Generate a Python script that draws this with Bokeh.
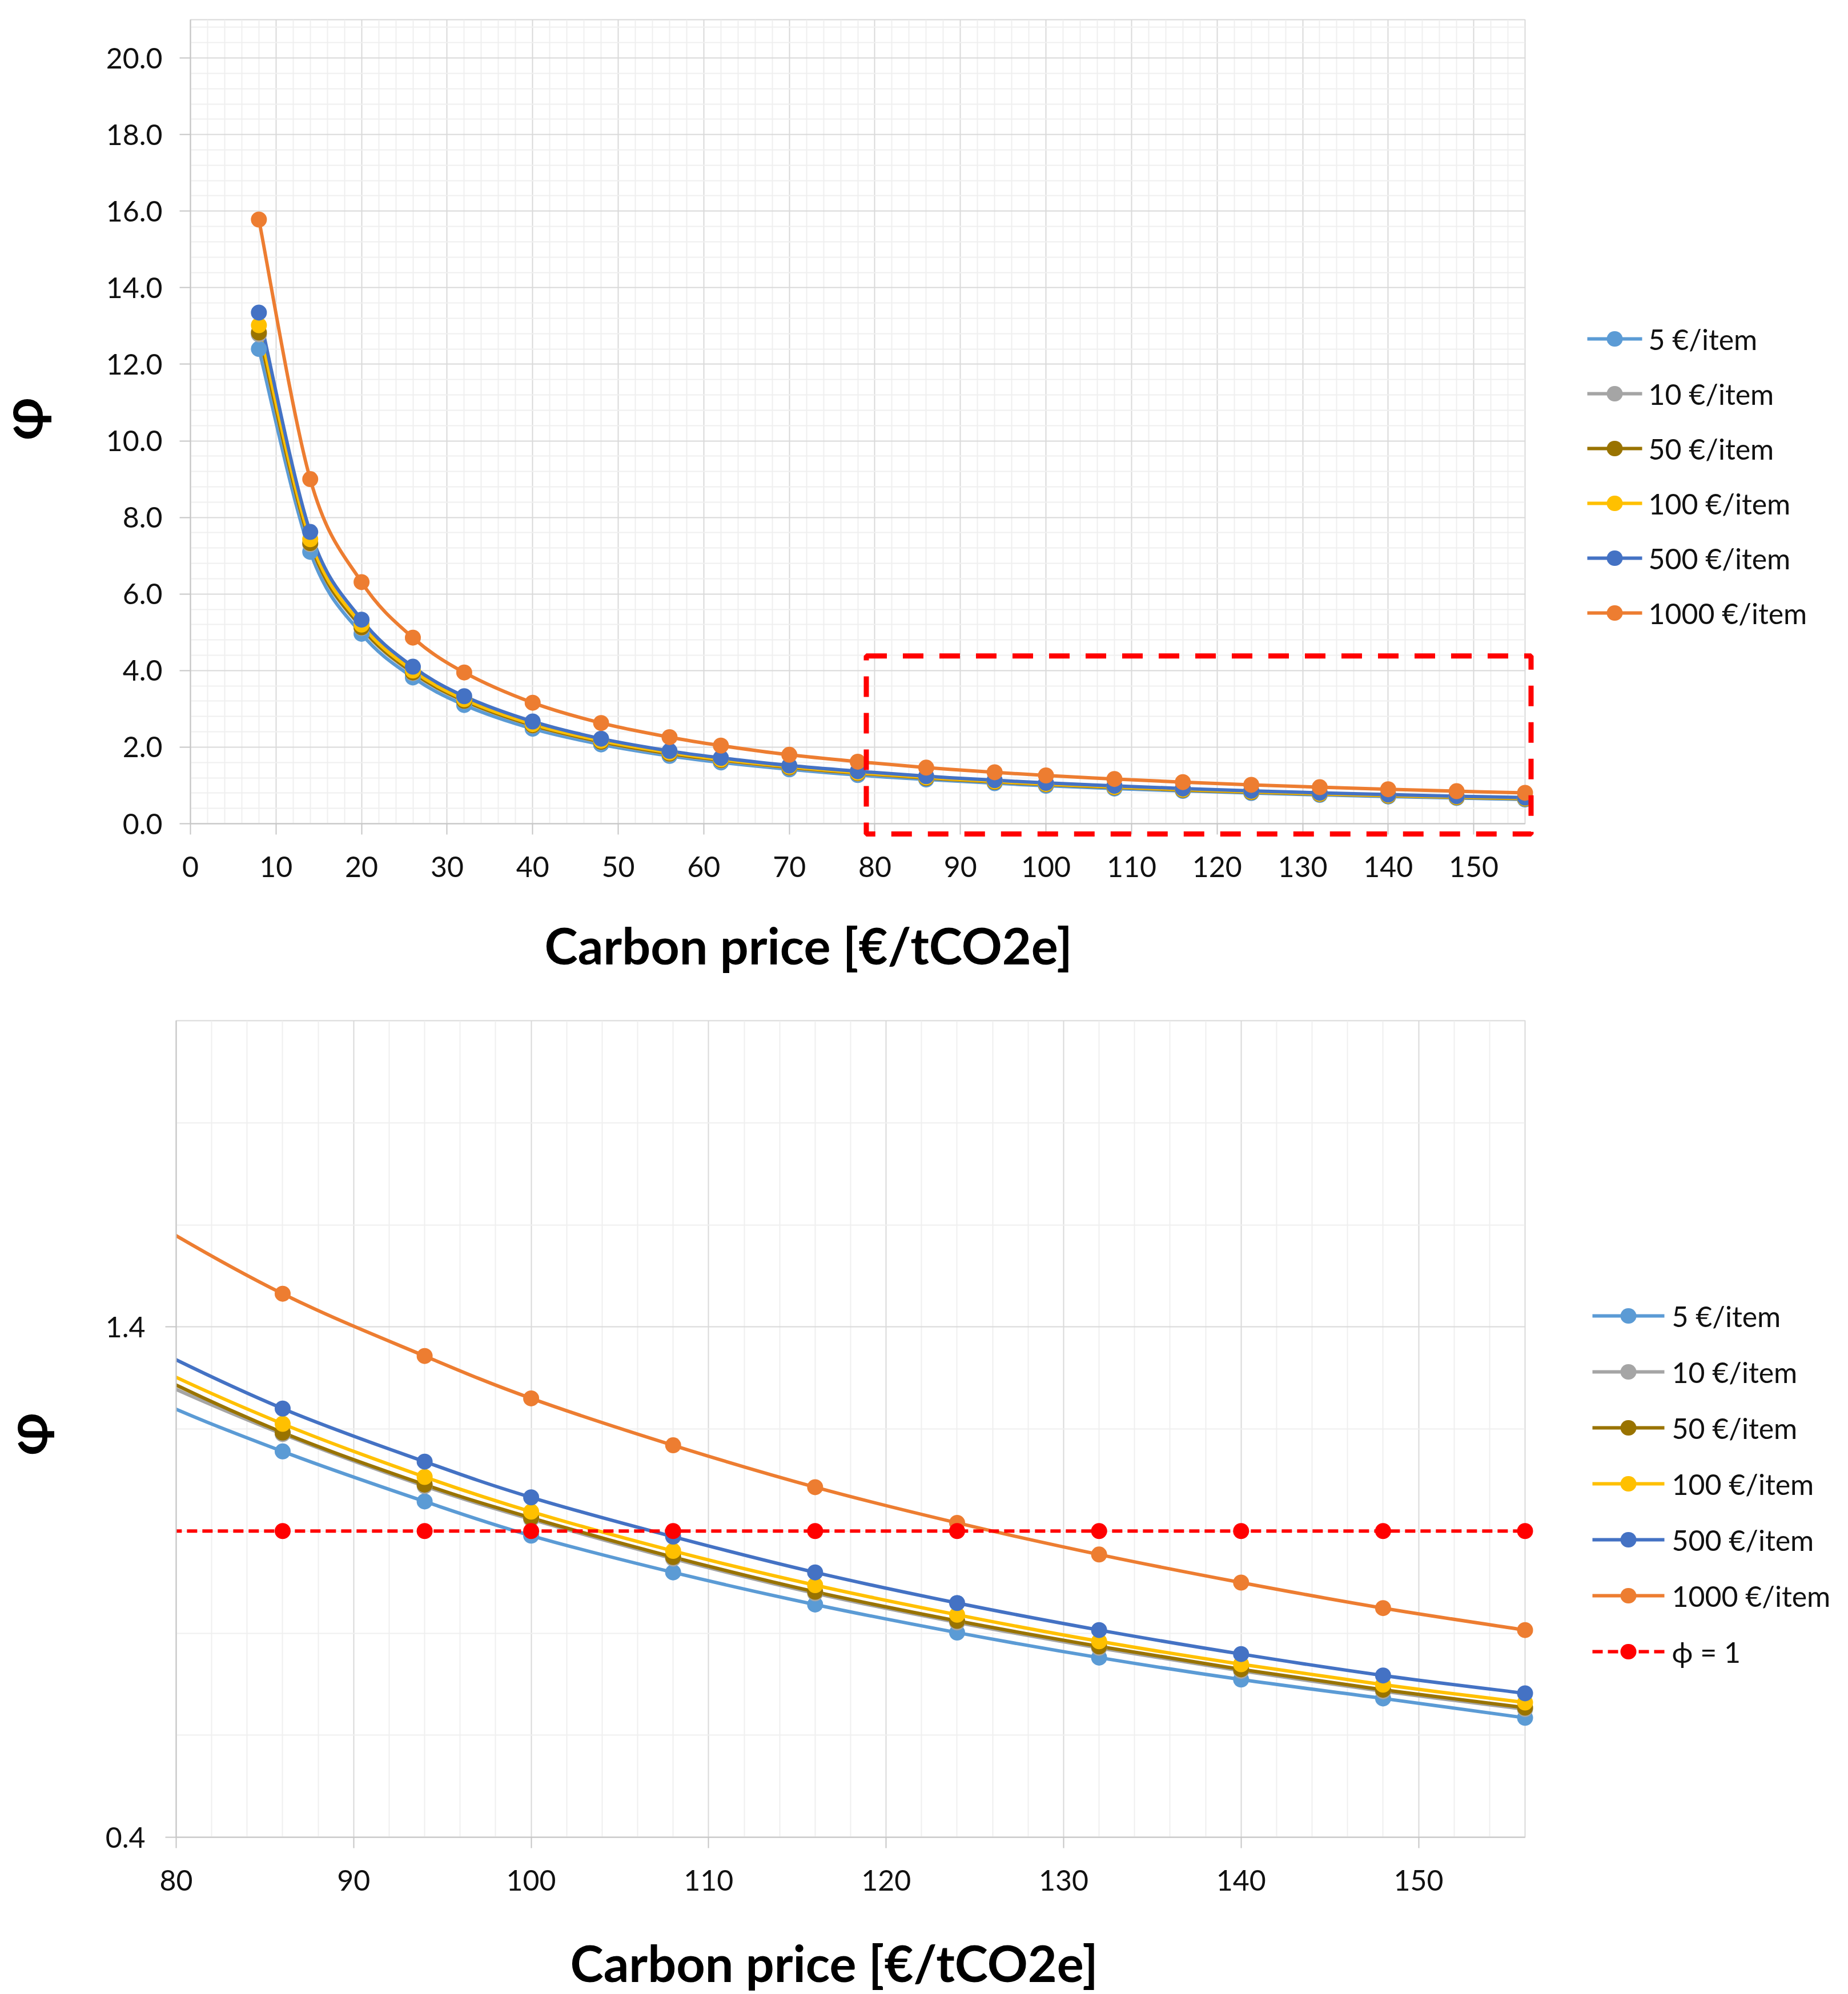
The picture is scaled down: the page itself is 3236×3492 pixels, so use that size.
import math
from bokeh.plotting import figure
from bokeh.models import Range1d, FixedTicker, NumeralTickFormatter, ColumnDataSource
from bokeh.core.properties import value
from bokeh.layouts import column, row
from bokeh.embed import file_html
from bokeh.resources import INLINE

# ---------------- data ----------------
carbon_price = [8, 14, 20, 26, 32, 40, 48, 56, 62, 70, 78, 86, 94, 100, 108, 116, 124, 132, 140, 148, 156]

phi_5 = [12.40, 7.10, 4.96, 3.82, 3.10, 2.48, 2.07, 1.77, 1.60, 1.42, 1.27,
         1.156, 1.058, 0.991, 0.919, 0.856, 0.801, 0.752, 0.709, 0.672, 0.634]
phi_10 = [12.78, 7.30, 5.11, 3.93, 3.20, 2.56, 2.13, 1.82, 1.65, 1.46, 1.31,
          1.190, 1.088, 1.023, 0.946, 0.878, 0.821, 0.771, 0.726, 0.686, 0.651]
phi_50 = [12.83, 7.33, 5.13, 3.95, 3.21, 2.57, 2.14, 1.83, 1.66, 1.47, 1.32,
          1.193, 1.091, 1.026, 0.949, 0.881, 0.824, 0.774, 0.729, 0.689, 0.654]
phi_100 = [13.02, 7.43, 5.20, 4.00, 3.25, 2.60, 2.17, 1.86, 1.68, 1.49, 1.335,
           1.210, 1.106, 1.038, 0.961, 0.894, 0.836, 0.784, 0.739, 0.699, 0.664]
phi_500 = [13.35, 7.62, 5.33, 4.10, 3.33, 2.67, 2.22, 1.90, 1.72, 1.52, 1.37,
           1.240, 1.136, 1.066, 0.989, 0.919, 0.859, 0.806, 0.759, 0.717, 0.682]
phi_1000 = [15.78, 9.00, 6.31, 4.86, 3.95, 3.16, 2.63, 2.26, 2.04, 1.80, 1.62,
            1.465, 1.343, 1.260, 1.168, 1.086, 1.016, 0.954, 0.899, 0.849, 0.806]

ref_price = [78, 86, 94, 100, 108, 116, 124, 132, 140, 148, 156]
ref_phi = [1.0, 1.0, 1.0, 1.0, 1.0, 1.0, 1.0, 1.0, 1.0, 1.0, 1.0]

series_labels = ["5 €/item", "10 €/item", "50 €/item", "100 €/item", "500 €/item", "1000 €/item"]
series_values = [phi_5, phi_10, phi_50, phi_100, phi_500, phi_1000]
series_colors = ["#5B9BD5", "#A5A5A5", "#997300", "#FFC000", "#4472C4", "#ED7D31"]
ref_label = "ϕ = 1"
ref_color = "#FF0000"

x_title = "Carbon price [€/tCO2e]"
y_title = "φ"

top_x_ticks = list(range(0, 151, 10))
top_x_minor = [v for v in range(0, 157, 2) if v % 10 != 0]
top_y_ticks = [round(2.0 * i, 1) for i in range(11)]
top_y_minor = [round(0.4 * i, 1) for i in range(1, 53) if (i % 5) != 0]
bot_x_ticks = list(range(80, 151, 10))
bot_x_minor = [v for v in range(80, 157, 2) if v % 10 != 0]
bot_y_ticks = [0.4, 1.4]
bot_y_minor = [0.6, 0.8, 1.0, 1.2, 1.6, 1.8, 2.0]

# highlighted region drawn on the top chart (data coordinates)
zoom_box = dict(left=79.0, right=156.7, bottom=-0.27, top=4.38)

FONT = "Lato"
GRID_MAJOR = "#d9d9d9"
GRID_MINOR = "#efefef"
AXIS_COL = "#c6c6c6"
TEXT_COL = "#111111"
LW = 6
MS = 28
# note: font sizes such as "100px" are avoided (parsed like a font weight)
TICK_FS = "50px"
LEG_FS = "50px"
TITLE_FS = "88px"
PHI_FS = "98px"

# ---------------- page geometry (px) ----------------
H1, H2 = 1740, 1748
PW1, PW2 = 120, 95                 # strips carrying the rotated y titles
F1 = dict(left=333, right=2670, top=34, bottom=1442)     # top plot area
F2 = dict(left=308, right=2670, top=1787, bottom=3217)   # bottom plot area
BORDER_RIGHT = 3220 - F1["right"]


def to_top(px, py):
    """page px -> top chart data coordinates (for the annotations outside the plot area)."""
    return ((px - F1["left"]) * 156.0 / (F1["right"] - F1["left"]),
            (F1["bottom"] - py) * 21.0 / (F1["bottom"] - F1["top"]))


def to_bot(px, py):
    return (80.0 + (px - F2["left"]) * 76.0 / (F2["right"] - F2["left"]),
            0.4 + (F2["bottom"] - py) * 1.6 / (F2["bottom"] - F2["top"]))


def bezier_source(xs, ys, xmin=None):
    """Smooth (Excel-like) curve through the data points, as cubic Bezier segments."""
    n = len(xs)
    d = dict(x0=[], y0=[], x1=[], y1=[], cx0=[], cy0=[], cx1=[], cy1=[])
    for i in range(n - 1):
        if xmin is not None and xs[i] < xmin:
            continue
        xp, yp = (xs[i - 1], ys[i - 1]) if i > 0 else (xs[i], ys[i])
        xn, yn = (xs[i + 2], ys[i + 2]) if i + 2 < n else (xs[i + 1], ys[i + 1])
        d["x0"].append(xs[i]); d["y0"].append(ys[i])
        d["x1"].append(xs[i + 1]); d["y1"].append(ys[i + 1])
        d["cx0"].append(xs[i] + (xs[i + 1] - xp) / 6.0)
        d["cy0"].append(ys[i] + (ys[i + 1] - yp) / 6.0)
        d["cx1"].append(xs[i + 1] - (xn - xs[i]) / 6.0)
        d["cy1"].append(ys[i + 1] - (yn - ys[i]) / 6.0)
    return ColumnDataSource(d)


def style(p, xt, xm, yt, ym, ystand):
    p.outline_line_color = GRID_MAJOR
    p.outline_line_width = 2
    p.background_fill_color = "white"
    p.border_fill_color = "white"
    p.xaxis.ticker = FixedTicker(ticks=xt, minor_ticks=xm)
    p.yaxis.ticker = FixedTicker(ticks=yt, minor_ticks=ym)
    p.yaxis.formatter = NumeralTickFormatter(format="0.0")
    for ax in (p.xaxis[0], p.yaxis[0]):
        ax.axis_line_color = AXIS_COL
        ax.axis_line_width = 2
        ax.major_tick_line_color = AXIS_COL
        ax.major_tick_line_width = 2
        ax.major_tick_out = 19
        ax.major_tick_in = 0
        ax.minor_tick_line_color = None
        ax.major_label_text_font = FONT
        ax.major_label_text_font_size = TICK_FS
        ax.major_label_text_color = TEXT_COL
    p.xaxis.major_label_standoff = 38
    p.yaxis.major_label_standoff = ystand
    for g in (p.xgrid[0], p.ygrid[0]):
        g.grid_line_color = GRID_MAJOR
        g.grid_line_width = 2
        g.minor_grid_line_color = GRID_MINOR
        g.minor_grid_line_width = 2


def draw_legend(p, conv, entries, x_line0, x_line1, x_text, y_first, pitch):
    """Legend drawn right of the plot area (overlay level, not clipped to the frame)."""
    for i, (lab, col, dash) in enumerate(entries):
        yc = y_first + pitch * i
        xa, ya = conv(x_line0, yc)
        xb, _ = conv(x_line1, yc)
        xm0, _ = conv((x_line0 + x_line1) / 2.0 - 0.5, yc)
        xm1, _ = conv((x_line0 + x_line1) / 2.0 + 0.5, yc)
        xt, _ = conv(x_text, yc)
        p.segment(x0=[xa], y0=[ya], x1=[xb], y1=[ya], line_color=col, line_width=LW,
                  line_dash=dash, level="overlay")
        # marker dot: a very short round-capped stroke (markers outside the ranges get culled)
        p.segment(x0=[xm0], y0=[ya], x1=[xm1], y1=[ya], line_color=col, line_width=MS - 1,
                  line_cap="round", level="overlay")
        p.text([xt], [ya], text=[lab], text_font=value(FONT), text_font_size=value(LEG_FS),
               text_align="left", text_baseline="middle", text_color=TEXT_COL, level="overlay")


def draw_x_title(p, conv, px, py):
    x, y = conv(px, py)
    p.text([x], [y], text=[x_title], text_font=value(FONT), text_font_size=value(TITLE_FS),
           text_font_style="bold", text_align="left", text_baseline="alphabetic",
           text_color="#000000", level="overlay")


def phi_strip(w, h, frame, cx, cy):
    """Narrow strip left of a chart that carries the rotated y-axis title."""
    q = figure(width=w, height=h, output_backend="svg", toolbar_location=None,
               x_axis_location=None, y_axis_location=None,
               x_range=Range1d(0, w), y_range=Range1d(0, frame["bottom"] - frame["top"]),
               min_border=0, min_border_left=0, min_border_right=0,
               min_border_top=0, min_border_bottom=0)
    q.outline_line_color = None
    q.xgrid.visible = False
    q.ygrid.visible = False
    q.text([cx], [frame["bottom"] - cy], text=[y_title], angle=math.pi / 2,
           text_font=value(FONT), text_font_size=value(PHI_FS), text_font_style="bold",
           text_align="center", text_baseline="middle", text_color="#000000", level="overlay")
    return q


# ---------------- top chart ----------------
p1 = figure(width=3220 - PW1, height=H1, output_backend="svg", toolbar_location=None,
            x_range=Range1d(0, 156), y_range=Range1d(0, 21),
            min_border_left=F1["left"] - PW1, min_border_right=BORDER_RIGHT,
            min_border_top=F1["top"], min_border_bottom=H1 - F1["bottom"])
style(p1, top_x_ticks, top_x_minor, top_y_ticks, top_y_minor, 30)

for vals, col in zip(series_values, series_colors):
    p1.bezier(x0="x0", y0="y0", x1="x1", y1="y1", cx0="cx0", cy0="cy0", cx1="cx1", cy1="cy1",
              source=bezier_source(carbon_price, vals), line_color=col, line_width=LW)
    p1.scatter(carbon_price, vals, size=MS, marker="circle", fill_color=col, line_color=col,
               line_width=0, level="overlay")

p1.quad(left=[zoom_box["left"]], right=[zoom_box["right"]],
        bottom=[zoom_box["bottom"]], top=[zoom_box["top"]],
        fill_alpha=0, line_color="#FF0000", line_width=9, line_dash="36 28", level="overlay")

entries1 = [(lab, col, "solid") for lab, col in zip(series_labels, series_colors)]
draw_legend(p1, to_top, entries1, 2779, 2875, 2886, 593, 96)
draw_x_title(p1, to_top, 953, 1654)

# ---------------- bottom chart ----------------
p2 = figure(width=3220 - PW2, height=H2, output_backend="svg", toolbar_location=None,
            x_range=Range1d(80, 156), y_range=Range1d(0.4, 2.0),
            min_border_left=F2["left"] - PW2, min_border_right=BORDER_RIGHT,
            min_border_top=F2["top"] - H1, min_border_bottom=H1 + H2 - F2["bottom"])
style(p2, bot_x_ticks, bot_x_minor, bot_y_ticks, bot_y_minor, 35)

for vals, col in zip(series_values, series_colors):
    p2.bezier(x0="x0", y0="y0", x1="x1", y1="y1", cx0="cx0", cy0="cy0", cx1="cx1", cy1="cy1",
              source=bezier_source(carbon_price, vals, xmin=78), line_color=col, line_width=LW)
    px = [x for x in carbon_price if x >= 80]
    py = [v for x, v in zip(carbon_price, vals) if x >= 80]
    p2.scatter(px, py, size=MS, marker="circle", fill_color=col, line_color=col,
               line_width=0, level="overlay")

p2.line(ref_price, ref_phi, line_color=ref_color, line_width=LW, line_dash="18 9")
rx = [x for x in ref_price if x >= 80]
ry = [v for x, v in zip(ref_price, ref_phi) if x >= 80]
p2.scatter(rx, ry, size=MS, marker="circle", fill_color=ref_color, line_color=ref_color,
           line_width=0, level="overlay")

entries2 = entries1 + [(ref_label, ref_color, "18 9")]
draw_legend(p2, to_bot, entries2, 2788, 2914, 2927, 2304, 98)
draw_x_title(p2, to_bot, 998, 3436)

# ---------------- y-title strips ----------------
phi1 = phi_strip(PW1, H1, F1, 35, 733)
phi2 = phi_strip(PW2, H2, F2, 43, 2511)

layout = column(row(phi1, p1, spacing=0), row(phi2, p2, spacing=0), spacing=0)
open("out.html", "w").write(file_html(layout, INLINE))
